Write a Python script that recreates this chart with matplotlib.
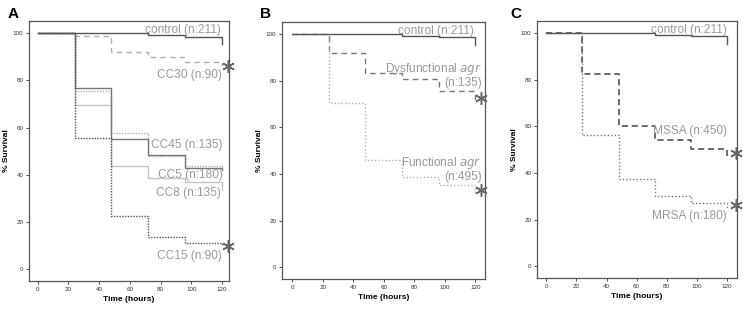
import matplotlib
matplotlib.use("Agg")
import matplotlib.pyplot as plt

plt.rcParams['font.family'] = ['Liberation Sans', 'DejaVu Sans']

# ---------------- data ----------------
times = [0, 24, 48, 72, 96, 120]
ctrl_times = [0, 72, 96, 120]
control = [100, 99.3, 98.6, 95.5]

# Panel A (clonal complexes)
cc30 = [100, 98.9, 92.2, 90.0, 87.9, 86.2]
cc45 = [100, 76.7, 55.1, 48.3, 42.8, 42.0]
cc5 = [100, 75.5, 57.8, 48.0, 43.5, 42.0]
cc8 = [100, 69.6, 43.8, 38.4, 37.0, 33.6]
cc15 = [100, 55.5, 22.3, 13.4, 11.2, 9.6]

# Panel B (agr)
dys_agr = [100, 92.1, 83.2, 80.8, 75.6, 70.3]
fun_agr = [100, 70.3, 46.1, 38.5, 35.2, 32.0]

# Panel C (MSSA / MRSA)
mssa = [100, 82.6, 60.3, 54.2, 50.3, 47.0]
mrsa = [100, 56.2, 37.4, 30.0, 27.3, 24.7]

x_ticks = [0, 20, 40, 60, 80, 100, 120]
y_ticks = [0, 20, 40, 60, 80, 100]

TXT = '#9a9a9a'
DARK = '#555555'
MID = '#777777'
LIGHT = '#b0b0b0'
LIGHTER = '#c4c4c4'

fig = plt.figure(figsize=(7.43, 3.13), dpi=100)

positions = {
    'A': [29/743, (313-281)/313, 200/743, 260/313],
    'B': [282/743, (313-279)/313, 203/743, 257/313],
    'C': [537/743, (313-278)/313, 200/743, 257/313],
}
xlims = {'A': (-5.7, 124.6), 'B': (-6.7, 126.3), 'C': (-6.2, 126.7)}


def setup(ax, key):
    ax.set_xlim(*xlims[key])
    ax.set_ylim(-5.1, 105.2)
    ax.set_xticks(x_ticks)
    ax.set_yticks(y_ticks)
    ax.tick_params(labelsize=4.5, length=2, width=0.6, pad=2, colors='#333333')
    for s in ax.spines.values():
        s.set_color('#555555')
        s.set_linewidth(0.9)
    ax.set_xlabel('Time (hours)', fontsize=6, fontweight='bold', labelpad=3)
    ax.set_ylabel('% Survival', fontsize=6, fontweight='bold', labelpad=2)
    ax.step(ctrl_times, control, where='post', color=DARK, lw=1.0, zorder=5)


def star(ax, x, y):
    ax.plot([x], [y], marker=(6, 2, 0), ms=9, mew=1.1, color='#666666',
            clip_on=False, zorder=6, ls='none')


lab = dict(fontsize=8.6, color=TXT, ha='right', va='center')

# Panel A
axA = fig.add_axes(positions['A'])
setup(axA, 'A')
axA.step(times, cc30, where='post', color=LIGHT, lw=1.0, ls=(0, (4, 3)))
axA.step(times, cc8, where='post', color=LIGHTER, lw=1.0)
axA.step(times, cc5, where='post', color=LIGHT, lw=1.0, ls=(0, (1, 1)))
axA.step(times, cc45, where='post', color=MID, lw=1.0)
axA.step(times, cc15, where='post', color=DARK, lw=1.0, ls=(0, (1, 1)))
axA.text(119, 101.3, 'control (n:211)', **lab)
axA.text(120, 82.2, 'CC30 (n:90)', **lab)
axA.text(120.5, 52.4, 'CC45 (n:135)', **lab)
axA.text(120.5, 40.0, 'CC5 (n:180)', **lab)
axA.text(119.2, 32.3, 'CC8 (n:135)', **lab)
axA.text(120, 5.3, 'CC15 (n:90)', **lab)
star(axA, 123.8, 86.0)
star(axA, 123.8, 9.9)

# Panel B
axB = fig.add_axes(positions['B'])
setup(axB, 'B')
axB.step(times, dys_agr, where='post', color=MID, lw=1.0, ls=(0, (4, 3)))
axB.step(times, fun_agr, where='post', color=LIGHT, lw=1.0, ls=(0, (1, 1.5)))
axB.text(119, 101.3, 'control (n:211)', **lab)
axB.text(124.2, 82.3, 'Dysfunctional $\\mathit{agr}$\n(n:135)', linespacing=1.0,
         multialignment='right', **lab)
axB.text(124.2, 42.0, 'Functional $\\mathit{agr}$\n(n:495)', linespacing=1.0,
         multialignment='right', **lab)
star(axB, 123.7, 72.5)
star(axB, 123.7, 33.3)

# Panel C
axC = fig.add_axes(positions['C'])
setup(axC, 'C')
axC.step(times, mssa, where='post', color='#444444', lw=1.1, ls=(0, (4, 2.5)))
axC.step(times, mrsa, where='post', color=MID, lw=1.0, ls=(0, (1, 1.5)))
axC.text(120, 101.3, 'control (n:211)', **lab)
axC.text(120, 57.9, 'MSSA (n:450)', **lab)
axC.text(120, 21.6, 'MRSA (n:180)', **lab)
star(axC, 126, 48.4)
star(axC, 126, 26.1)

fig.text(8/743, 1 - 14/313, 'A', fontsize=11, fontweight='bold', va='center')
fig.text(260/743, 1 - 14/313, 'B', fontsize=11, fontweight='bold', va='center')
fig.text(510/743, 1 - 14/313, 'C', fontsize=11, fontweight='bold', va='center')

fig.savefig('out.png', dpi=100)
